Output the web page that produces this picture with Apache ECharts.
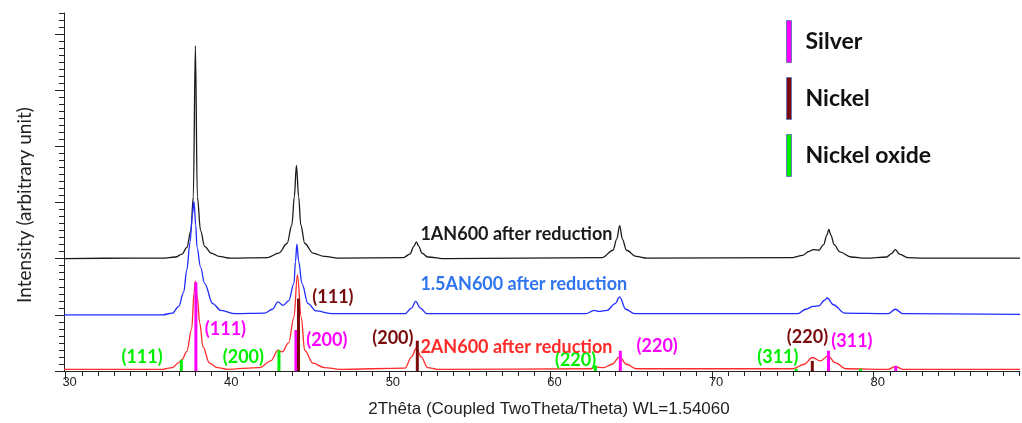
<!DOCTYPE html>
<html><head><meta charset="utf-8">
<script src="https://cdn.jsdelivr.net/npm/echarts@6/dist/echarts.min.js"></script>
<style>html,body{margin:0;padding:0;background:#fff}#c{width:1022px;height:423px}</style>
</head><body><div id="c"></div>
<script>
// ---- data: [2theta, intensity above own baseline] ----
const black1AN = [[29.9,0],[34,0.01],[36.0,0.01],[36.8,0.03],[37.2,0.08],[37.5,0.2],[37.75,0.5],[37.9,1.1],[38.03,3.79],[38.15,1.1],[38.35,0.5],[38.6,0.22],[39.0,0.1],[39.5,0.04],[40.2,0.01],[42.5,0.02],[43.2,0.1],[43.7,0.27],[44.0,0.6],[44.15,1.1],[44.28,1.66],[44.42,1.1],[44.55,0.6],[44.8,0.27],[45.3,0.1],[46.0,0.04],[47.0,0.01],[50.9,0.02],[51.3,0.08],[51.55,0.22],[51.7,0.30],[51.85,0.22],[52.05,0.1],[52.4,0.03],[53.5,0.0],[63.2,0.02],[63.87,0.15],[64.1,0.35],[64.28,0.59],[64.45,0.35],[64.7,0.15],[65.3,0.04],[66,0.01],[75.0,0.02],[75.6,0.06],[76.0,0.13],[76.25,0.16],[76.6,0.15],[76.9,0.25],[77.1,0.42],[77.22,0.52],[77.35,0.42],[77.55,0.25],[77.9,0.12],[78.6,0.03],[79.5,0.01],[80.8,0.03],[81.1,0.09],[81.34,0.16],[81.6,0.08],[82.1,0.02],[83,0.01],[89.05,0.01]];
const blue15AN = [[29.9,0],[36.0,0.0],[36.6,0.03],[37.0,0.15],[37.3,0.4],[37.5,0.8],[37.7,1.3],[37.85,1.8],[37.94,2.02],[38.05,1.6],[38.13,1.2],[38.35,0.85],[38.6,0.56],[39.1,0.2],[39.6,0.08],[40.5,0.02],[42.3,0.03],[42.8,0.1],[43.14,0.23],[43.45,0.17],[43.8,0.25],[44.13,0.56],[44.22,0.95],[44.31,1.26],[44.42,0.95],[44.62,0.56],[45.0,0.2],[45.5,0.07],[46.5,0.02],[51.0,0.02],[51.4,0.12],[51.66,0.24],[51.95,0.12],[52.35,0.02],[62.2,0.02],[62.7,0.08],[63.0,0.06],[63.5,0.08],[64.0,0.2],[64.28,0.32],[64.65,0.1],[65.2,0.02],[75.3,0.02],[75.8,0.1],[76.25,0.15],[76.6,0.16],[76.95,0.26],[77.13,0.30],[77.5,0.18],[78.2,0.03],[80.9,0.02],[81.34,0.10],[81.8,0.02],[89.05,0.01]];
const red2AN = [[29.9,0.03],[36.0,0.03],[36.6,0.06],[37.0,0.15],[37.2,0.2],[37.5,0.35],[37.8,0.75],[37.95,1.4],[38.03,1.60],[38.15,1.3],[38.3,0.85],[38.5,0.43],[38.9,0.14],[39.4,0.06],[40.0,0.03],[42.0,0.06],[42.7,0.18],[43.14,0.37],[43.4,0.34],[43.8,0.5],[44.13,0.96],[44.34,1.71],[44.58,0.96],[44.79,0.37],[45.3,0.14],[46.0,0.06],[47.0,0.03],[51.0,0.05],[51.4,0.25],[51.7,0.41],[52.0,0.25],[52.4,0.06],[53,0.03],[62.5,0.04],[62.8,0.07],[63.3,0.06],[63.8,0.12],[64.28,0.25],[64.7,0.12],[65.3,0.04],[75.0,0.04],[75.7,0.12],[76.2,0.24],[76.7,0.18],[77.17,0.27],[77.6,0.15],[78.3,0.04],[80.9,0.03],[81.34,0.08],[81.8,0.03],[89.05,0.03]];
const offsets = { black: 2, blue: 1, red: 0 };

// reference sticks [2theta, height]
const silverSticks = [[38.06,1.58],[44.25,0.73],[64.32,0.36],[77.2,0.36],[81.36,0.09]];
const nickelSticks = [[44.41,1.29],[51.76,0.54],[76.2,0.18]];
const nioSticks = [[37.16,0.2],[43.2,0.37],[62.78,0.1],[75.2,0.04],[79.18,0.04]];

// annotations [2theta, y, text, kind]
const annotations = [
  [34.73,0.25,'(111)','nio'],[39.89,0.75,'(111)','silver'],[41.0,0.25,'(200)','nio'],
  [46.16,0.545,'(200)','silver'],[46.54,1.32,'(111)','nickel'],[50.25,0.58,'(200)','nickel'],
  [61.55,0.195,'(220)','nio'],[66.6,0.45,'(220)','silver'],[75.9,0.61,'(220)','nickel'],
  [74.07,0.25,'(311)','nio'],[78.65,0.53,'(311)','silver']
];
const sampleLabels = [[51.95,2.43,'1AN600 after reduction','black'],[51.95,1.545,'1.5AN600 after reduction','blueText'],[51.95,0.43,'2AN600 after reduction','red']];

const xMajorTicks = [30,40,50,60,70,80];
const xMinorTicks = []; for (let v = 30; v <= 89; v++) xMinorTicks.push(v);
const yMajorTicks = [0,1,2,3,4,5,6];
const yMinorTicks = []; for (let i = 0; i <= 51; i++) yMinorTicks.push(i * 0.125);

const colors = { black:'#1a1a1a', blue:'#1f2bff', blueText:'#2f74ee', red:'#ff2a2a', silver:'#ff00ff', nickel:'#7a0a0a', nio:'#00ee00' };
const FONT = 'Lato, "Open Sans", sans-serif';

const chart = echarts.init(document.getElementById('c'), null, {renderer:'canvas'});
function lineSeries(name, pts, off, color) {
  return { name, type:'line', data: pts.map(p => [p[0], p[1] + off]), showSymbol:false, symbol:'none',
    smooth:0.35, smoothMonotone:'x', lineStyle:{ color, width:1.3 }, itemStyle:{color}, z:2, silent:true };
}
function stickSeries(name, sticks, color) {
  return { name, type:'custom', data: sticks, itemStyle:{color}, z:4, silent:true,
    renderItem(params, api) {
      const a = api.coord([api.value(0), 0]);
      const b = api.coord([api.value(0), api.value(1)]);
      return { type:'rect', shape:{ x:a[0]-1.5, y:b[1], width:3, height:a[1]-b[1] }, style:{ fill: api.visual('color') } };
    } };
}
function textSeries(list, size, align) {
  return { type:'custom', data: list.map(d => [d[0], d[1]]), z:5, silent:true, clip:false,
    renderItem(params, api) {
      const p = api.coord([api.value(0), api.value(1)]);
      const d = list[params.dataIndex];
      return { type:'text', x:p[0], y:p[1], style:{ text:d[2], fill:colors[d[3]], font:'bold ' + size + 'px ' + FONT, align, verticalAlign:'middle' } };
    } };
}

chart.setOption({
  animation:false,
  grid:{ left:64, right:2, top:13, bottom:52, containLabel:false },
  legend:{ orient:'vertical', left:786, top:20, padding:0, itemWidth:5, itemHeight:42, itemGap:14, icon:'rect',
    data:['Silver','Nickel','Nickel oxide'],
    itemStyle:{ borderColor:'#6a78b8', borderWidth:1 },
    textStyle:{ fontFamily:FONT, fontWeight:'bold', fontSize:23, color:'#111', padding:[0,0,0,9] } },
  xAxis:[
    { type:'value', min:29.9, max:89.05, position:'bottom',
      axisLine:{ show:true, lineStyle:{ color:'#222', width:1 } },
      axisTick:{ show:true, customValues:xMajorTicks, length:9, lineStyle:{ color:'#222' } },
      axisLabel:{ show:true, customValues:xMajorTicks, fontFamily:'Liberation Sans', fontSize:13, color:'#222', margin:5, padding:[0,0,0,8] },
      splitLine:{ show:false },
      name:'2Thêta (Coupled TwoTheta/Theta) WL=1.54060', nameLocation:'middle', nameGap:30,
      nameTextStyle:{ fontFamily:'Liberation Sans', fontSize:17, color:'#222', padding:[0,0,0,14] } },
    { type:'value', min:29.9, max:89.05, position:'bottom',
      axisLine:{ show:false }, axisTick:{ show:true, customValues:xMinorTicks, length:5, lineStyle:{ color:'#222' } },
      axisLabel:{ show:false }, splitLine:{ show:false } }
  ],
  yAxis:[
    { type:'value', min:0, max:6.375, position:'left',
      axisLine:{ show:true, lineStyle:{ color:'#222', width:1 } },
      axisTick:{ show:true, customValues:yMajorTicks, length:9, lineStyle:{ color:'#222' } },
      axisLabel:{ show:false }, splitLine:{ show:false },
      name:'Intensity (arbitrary unit)', nameLocation:'middle', nameGap:30, nameRotate:90,
      nameTextStyle:{ fontFamily:FONT, fontSize:19, color:'#222', padding:[0,26,0,0] } },
    { type:'value', min:0, max:6.375, position:'left',
      axisLine:{ show:false }, axisTick:{ show:true, customValues:yMinorTicks, length:5, lineStyle:{ color:'#222' } },
      axisLabel:{ show:false }, splitLine:{ show:false } }
  ],
  series:[
    lineSeries('1AN600', black1AN, offsets.black, colors.black),
    lineSeries('1.5AN600', blue15AN, offsets.blue, colors.blue),
    lineSeries('2AN600', red2AN, offsets.red, colors.red),
    stickSeries('Nickel oxide', nioSticks, colors.nio),
    stickSeries('Silver', silverSticks, colors.silver),
    stickSeries('Nickel', nickelSticks, colors.nickel),
    textSeries(annotations, 18, 'center'),
    textSeries(sampleLabels, 18, 'left')
  ]
});
</script></body></html>
